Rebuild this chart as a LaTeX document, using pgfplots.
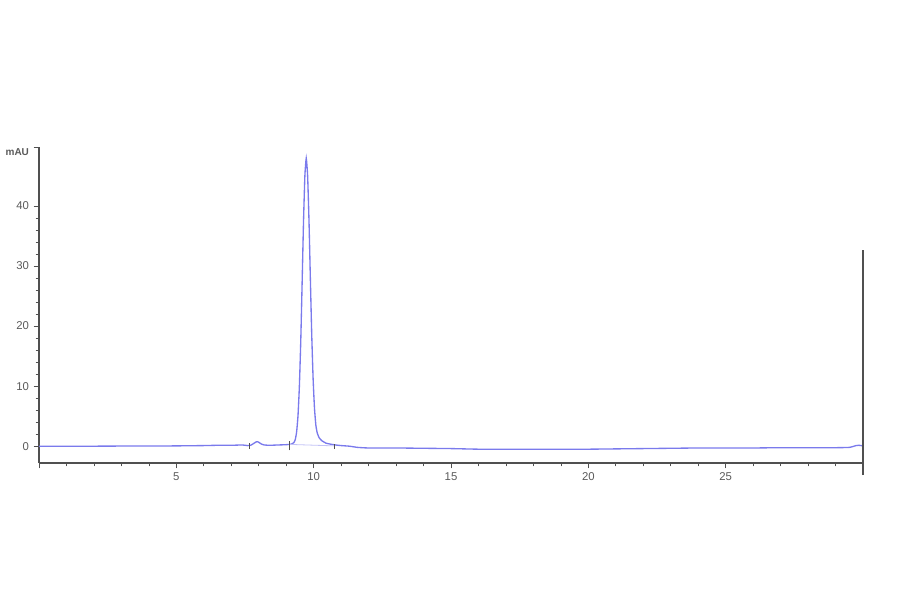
\documentclass[border=0pt]{standalone}
\usepackage{pgfplots}
\pgfplotsset{compat=1.18}
\usepackage{fontspec}
\setmainfont{Liberation Sans}
\definecolor{trace}{RGB}{122,122,236}
\definecolor{axisgray}{RGB}{80,80,80}
\definecolor{labelgray}{RGB}{90,90,90}

\begin{document}
\begin{tikzpicture}
  % page frame: 900x594 px at 0.75pt per px
  \path[use as bounding box] (0pt,0pt) rectangle (675pt,445.5pt);
  \begin{axis}[
      scale only axis,
      width=618pt, height=237pt,
      at={(29.25pt,98.25pt)}, anchor=south west,
      xmin=0, xmax=30,
      ymin=-2.8, ymax=49.8,
      axis x line*=bottom,
      axis y line*=left,
      axis line style={axisgray, line width=0.8pt},
      xtick={0,5,...,30},
      xticklabels={,5,10,15,20,25,},
      ytick={0,10,...,40},
      extra y ticks={49.8},
      extra y tick labels={},
      minor x tick num=4,
      minor y tick num=4,
      tick align=outside,
      major tick length=4pt,
      minor tick length=2.5pt,
      tick style={axisgray, line width=0.55pt},
      ticklabel style={font=\fontsize{8.5}{10}\selectfont, text=labelgray},
      /pgf/number format/assume math mode=true,
      clip=false,
    ]
    % chromatogram trace
    \addplot[trace, line width=1pt, smooth, tension=0.3] coordinates {
      (0,0) (1,0) (2,0) (3,0.02) (4,0.02) (5,0.05) (6,0.1) (6.5,0.15)
      (7,0.15) (7.4,0.2) (7.6,0.1) (7.7,0.15) (7.8,0.4) (7.9,0.7)
      (7.95,0.75) (8.0,0.65) (8.1,0.35) (8.2,0.2) (8.4,0.15) (8.7,0.2)
      (9.0,0.25) (9.2,0.35) (9.28,0.6) (9.33,1.1) (9.38,2.4) (9.43,5.1)
      (9.48,10.0) (9.53,17.5) (9.58,27.2) (9.63,37.3) (9.68,45.0)
      (9.73,47.9) (9.78,45.0) (9.83,37.5) (9.88,27.8) (9.93,18.5)
      (9.98,11.2) (10.03,6.3) (10.08,3.5) (10.13,2.2) (10.2,1.4)
      (10.3,0.9) (10.45,0.5) (10.6,0.35) (10.8,0.2) (11.0,0.1)
      (11.3,0.0) (11.6,-0.2) (12,-0.3) (13,-0.3) (14,-0.35) (15,-0.4)
      (16,-0.5) (17,-0.5) (18,-0.5) (19,-0.5) (20,-0.5) (21,-0.45)
      (22,-0.4) (23,-0.35) (24,-0.3) (25,-0.3) (26,-0.3) (27,-0.25)
      (28,-0.25) (29,-0.25) (29.5,-0.2) (29.75,0.1) (29.85,0.15) (30,0.05)
    };
    % integration baseline under the main peak
    \addplot[trace!45, line width=0.6pt] coordinates {(9.1,0.3) (10.75,0.05)};
    % integration markers
    \addplot[axisgray, line width=0.6pt] coordinates {(7.65,-0.4) (7.65,0.6)};
    \addplot[axisgray, line width=0.6pt] coordinates {(9.1,-0.7) (9.1,0.9)};
    \addplot[axisgray, line width=0.6pt] coordinates {(10.75,-0.5) (10.75,0.4)};
    % right-hand end line
    \addplot[axisgray, line width=0.9pt] coordinates {(30,-4.8) (30,32.7)};
    \node[font=\fontsize{7.5}{9}\selectfont\bfseries, text=labelgray, anchor=east]
      at (rel axis cs:0,1) [xshift=-4pt, yshift=-4pt] {mAU};
  \end{axis}
\end{tikzpicture}
\end{document}
